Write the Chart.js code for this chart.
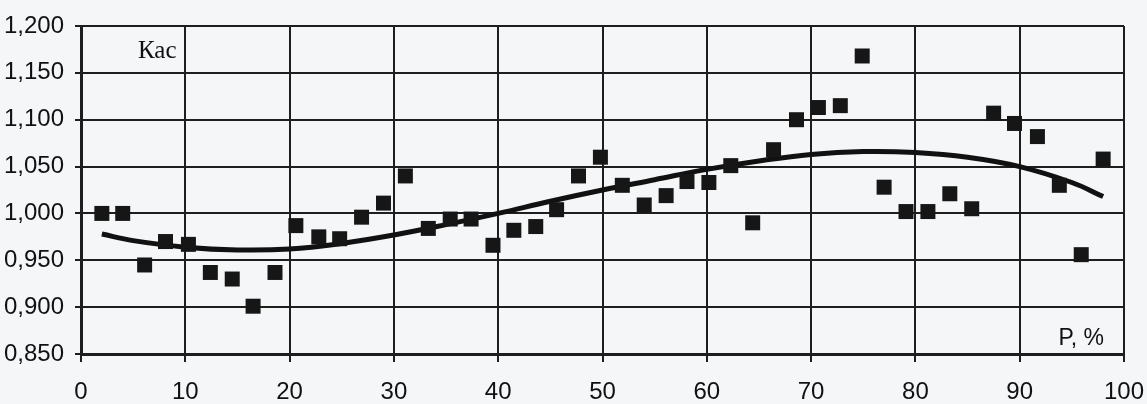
<!DOCTYPE html>
<html lang="ru">
<head>
    <meta charset="UTF-8">
    <title>Кас</title>
    <script src="https://cdn.jsdelivr.net/npm/chart.js"></script>
    <style>
        html, body { margin: 0; padding: 0; background: #f4f6f8; }
        #wrap { width: 1147px; height: 404px; position: relative; }
    </style>
</head>
<body>
<div id="wrap"><canvas id="chart" width="1147" height="404"></canvas></div>
<script>
// measured points (P, %) and Kас values
const pointX = [2.0, 4.0, 6.1, 8.1, 10.3, 12.4, 14.5, 16.5, 18.6, 20.6,
                22.8, 24.8, 26.9, 29.0, 31.1, 33.3, 35.4, 37.4, 39.5, 41.5,
                43.6, 45.6, 47.7, 49.8, 51.9, 54.0, 56.1, 58.1, 60.2, 62.3,
                64.4, 66.4, 68.6, 70.7, 72.8, 74.9, 77.0, 79.1, 81.2, 83.3,
                85.4, 87.5, 89.5, 91.7, 93.8, 95.9, 98.0];
const pointY = [1.000, 1.000, 0.945, 0.970, 0.967, 0.937, 0.930, 0.901, 0.937, 0.987,
                0.975, 0.973, 0.996, 1.011, 1.040, 0.984, 0.994, 0.994, 0.966, 0.982,
                0.986, 1.004, 1.040, 1.060, 1.030, 1.009, 1.019, 1.034, 1.033, 1.051,
                0.990, 1.068, 1.100, 1.113, 1.115, 1.168, 1.028, 1.002, 1.002, 1.021,
                1.005, 1.107, 1.096, 1.082, 1.030, 0.956, 1.058];

// trend curve
const trendX = [2, 5, 10, 15, 20, 25, 30, 35, 40, 45, 50, 55, 60, 65, 70, 75, 80, 85, 90, 95, 98];
const trendY = [0.978, 0.971, 0.964, 0.961, 0.962, 0.968, 0.977, 0.988, 1.000, 1.013,
                1.025, 1.036, 1.047, 1.056, 1.063, 1.066, 1.065, 1.060, 1.050, 1.033, 1.018];

const yTicks = [0.85, 0.9, 0.95, 1.0, 1.05, 1.1, 1.15, 1.2];
const xTicks = [0, 10, 20, 30, 40, 50, 60, 70, 80, 90, 100];

const tickFont = { family: "'Liberation Sans', Arial, sans-serif", size: 24 };
const gridColor = '#1e1e1e';

const labelsPlugin = {
    id: 'innerLabels',
    afterDraw(chart) {
        const ctx = chart.ctx;
        const a = chart.chartArea;
        ctx.save();
        ctx.fillStyle = '#111';
        ctx.textBaseline = 'alphabetic';
        ctx.font = "25px 'Liberation Serif', 'Times New Roman', serif";
        ctx.textAlign = 'left';
        ctx.fillText('Кас', a.left + 57, a.top + 32);
        ctx.font = "23px 'Liberation Sans', Arial, sans-serif";
        ctx.textAlign = 'right';
        ctx.fillText('P, %', a.right - 20, a.bottom - 9);
        ctx.restore();
    }
};

new Chart(document.getElementById('chart'), {
    type: 'scatter',
    data: {
        datasets: [
            {
                label: 'trend',
                data: trendX.map((x, i) => ({ x: x, y: trendY[i] })),
                showLine: true,
                borderColor: '#111',
                borderWidth: 5,
                pointRadius: 0,
                tension: 0.4,
                fill: false,
                order: 2
            },
            {
                label: 'Кас',
                data: pointX.map((x, i) => ({ x: x, y: pointY[i] })),
                pointStyle: 'rect',
                pointRadius: 10.6,
                backgroundColor: '#161616',
                borderColor: '#161616',
                borderWidth: 0,
                order: 1
            }
        ]
    },
    options: {
        responsive: false,
        animation: false,
        layout: { padding: { top: 26, right: 23, left: 0, bottom: 0 } },
        plugins: { legend: { display: false }, tooltip: { enabled: false } },
        scales: {
            x: {
                type: 'linear',
                min: 0,
                max: 100,
                afterBuildTicks: s => { s.ticks = xTicks.map(v => ({ value: v })); },
                afterFit: s => { s.height = 50; s.paddingLeft = 0; s.paddingRight = 0; },
                border: { color: gridColor, width: 3 },
                grid: { color: gridColor, lineWidth: 2, tickLength: 8 },
                ticks: { color: '#111', font: tickFont, padding: 16, maxRotation: 0 }
            },
            y: {
                min: 0.85,
                max: 1.2,
                afterBuildTicks: s => { s.ticks = yTicks.map(v => ({ value: v })); },
                afterFit: s => { s.width = 81; s.paddingTop = 0; s.paddingBottom = 0; },
                border: { color: gridColor, width: 3 },
                grid: { color: gridColor, lineWidth: 2, tickLength: 6 },
                ticks: {
                    color: '#111',
                    font: tickFont,
                    padding: 11,
                    callback: v => v.toFixed(3).replace('.', ',')
                }
            }
        }
    },
    plugins: [labelsPlugin]
});
</script>
</body>
</html>
